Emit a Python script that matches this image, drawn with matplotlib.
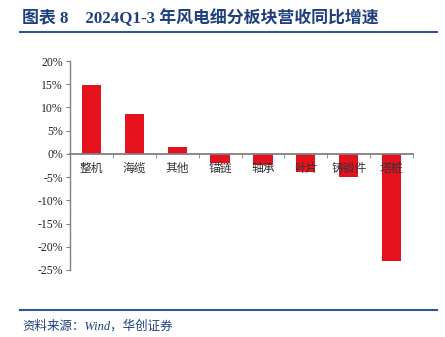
import matplotlib.pyplot as plt
from matplotlib.ticker import FuncFormatter, MultipleLocator
from matplotlib.lines import Line2D

# datos
categorias = ['整机', '海缆', '其他', '锚链', '轴承', '叶片', '铸锻件', '塔桩']
crecimiento = [14.8, 8.5, 1.5, -1.9, -2.4, -4.0, -4.9, -23.1]

mixto = ['Liberation Serif', 'Noto Sans CJK SC']
azul = '#1F3F7F'

fig = plt.figure(figsize=(4.45, 3.37), dpi=100)
ax = fig.add_axes([70 / 445, 1 - 270 / 337, 343 / 445, 209 / 337])

x = range(len(categorias))
ax.bar(x, crecimiento, width=0.45, color='#E5121E', zorder=1)

ax.set_xlim(-0.5, len(categorias) - 0.5)
ax.set_ylim(-25, 20)
ax.yaxis.set_major_locator(MultipleLocator(5))
ax.yaxis.set_major_formatter(FuncFormatter(lambda v, p: f'{v:.0f}%'))

for s in ['top', 'right']:
    ax.spines[s].set_visible(False)
ax.spines['bottom'].set_position(('data', 0))
ax.spines['bottom'].set_color('#808080')
ax.spines['left'].set_color('#808080')
ax.spines['bottom'].set_linewidth(1.3)
ax.spines['left'].set_linewidth(1.0)

ax.set_xticks(list(x))
ax.set_xticklabels(categorias, family='Noto Sans CJK SC', fontsize=8.5, color='#333333',
                   fontweight='light')
ax.set_xticks([i + 0.5 for i in x], minor=True)
ax.tick_params(axis='x', which='major', length=0, pad=6)
ax.tick_params(axis='x', which='minor', length=3, color='#808080', direction='out')
ax.tick_params(axis='y', length=3, color='#808080', direction='out', pad=2)
for t in ax.get_yticklabels():
    t.set_family(mixto)
    t.set_fontsize(8.5)
    t.set_color('#222222')

# titulo y fuente
fig.text(22 / 445, 1 - 18 / 337, '图表 8    2024Q1-3 年风电细分板块营收同比增速',
         family=mixto, fontsize=12.2, fontweight='bold', color=azul, va='center', ha='left')
fig.add_artist(Line2D([20 / 445, 437 / 445], [1 - 32 / 337] * 2, color='#2E5597', lw=1.5))
fig.add_artist(Line2D([20 / 445, 437 / 445], [1 - 310 / 337] * 2, color='#2E5597', lw=1.5))
fig.text(22 / 445, 1 - 326 / 337, '资料来源：Wind，华创证券', family=mixto, style='italic',
         fontsize=9, color=azul, va='center', ha='left')

fig.savefig('out.png', dpi=100)
